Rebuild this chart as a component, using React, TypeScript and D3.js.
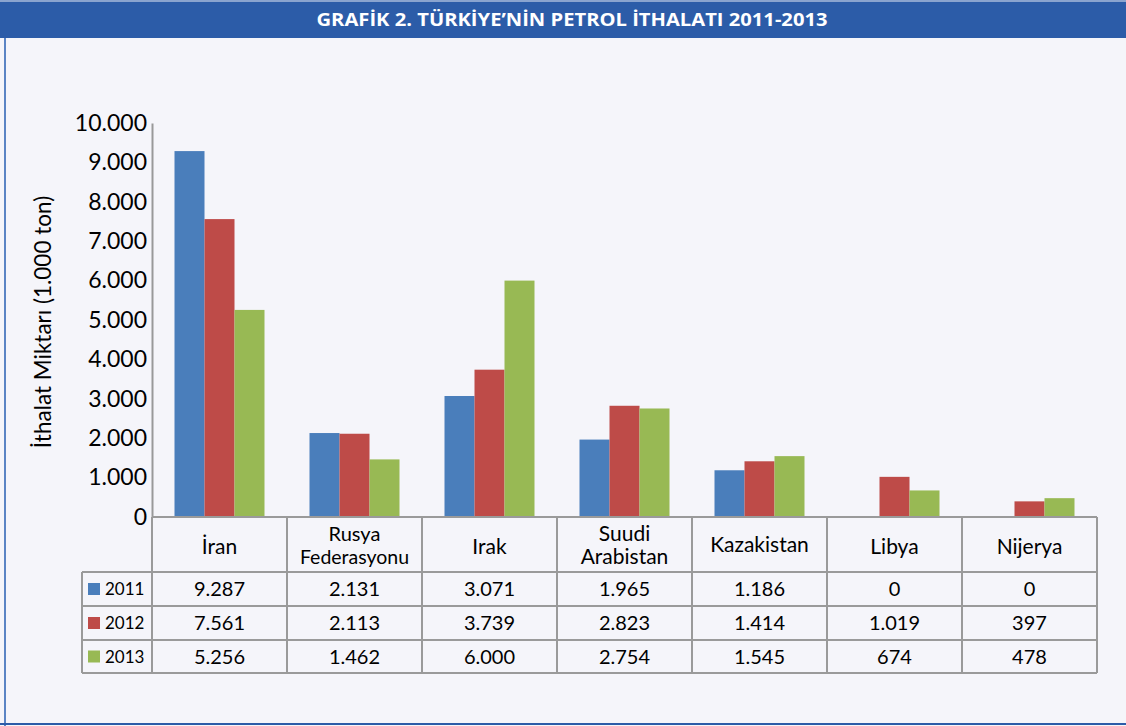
import React, { useEffect, useRef } from 'react';
import * as d3 from 'd3';

const countries = ['İran', 'Rusya Federasyonu', 'Irak', 'Suudi Arabistan', 'Kazakistan', 'Libya', 'Nijerya'];
const countryLines = [['İran'], ['Rusya', 'Federasyonu'], ['Irak'], ['Suudi', 'Arabistan'], ['Kazakistan'], ['Libya'], ['Nijerya']];
const years = ['2011', '2012', '2013'];
const values2011 = [9287, 2131, 3071, 1965, 1186, 0, 0];
const values2012 = [7561, 2113, 3739, 2823, 1414, 1019, 397];
const values2013 = [5256, 1462, 6000, 2754, 1545, 674, 478];
const yTicks = [0, 1000, 2000, 3000, 4000, 5000, 6000, 7000, 8000, 9000, 10000];
const colors = ['#4a7ebb', '#be4b48', '#98b954'];

const title = 'GRAFİK 2. TÜRKİYE’NİN PETROL İTHALATI 2011-2013';
const yTitle = 'İthalat Miktarı (1.000 ton)';

const W = 1126;
const H = 726;

const App: React.FC = () => {
  const svgRef = useRef<SVGSVGElement | null>(null);

  useEffect(() => {
    if (!svgRef.current) return;
    const svg = d3.select(svgRef.current);
    svg.selectAll('*').remove();

    const font = 'Lato, "Noto Sans", sans-serif';
    const series = [values2011, values2012, values2013];
    const fmt = (v: number) => d3.format(',')(v).replace(/,/g, '.');

    const left = 152;
    const right = 1097;
    const top = 123;
    const bottom = 517;

    // background + frame
    svg.append('rect').attr('width', W).attr('height', H).attr('fill', '#f5f5fa');
    svg.append('rect').attr('x', 0).attr('y', 0).attr('width', W).attr('height', 38).attr('fill', '#2c5ca8');
    svg.append('rect').attr('x', 0).attr('y', 0).attr('width', W).attr('height', 2).attr('fill', '#8aa4cf');
    svg.append('line').attr('x1', 5).attr('x2', 5).attr('y1', 38).attr('y2', H)
      .attr('stroke', '#5b84c4').attr('stroke-width', 2);
    svg.append('line').attr('x1', 0).attr('x2', W).attr('y1', H - 2).attr('y2', H - 2)
      .attr('stroke', '#2c5ca8').attr('stroke-width', 2);

    svg.append('text')
      .attr('x', 572).attr('y', 26)
      .attr('text-anchor', 'middle')
      .attr('fill', '#fff')
      .attr('font-family', '"Liberation Sans Narrow", "Open Sans", sans-serif')
      .attr('font-weight', 'bold')
      .attr('font-size', 18)
      .attr('textLength', 511)
      .attr('lengthAdjust', 'spacingAndGlyphs')
      .text(title);

    const x = d3.scaleBand<string>().domain(countries).range([left, right]).paddingInner(1 / 3).paddingOuter(1 / 6);
    const xs = d3.scaleBand<string>().domain(years).range([0, x.bandwidth()]);
    const y = d3.scaleLinear().domain([0, 10000]).range([bottom, top]);

    // bars
    years.forEach((yr, si) => {
      svg.append('g')
        .selectAll('rect')
        .data(series[si])
        .enter()
        .append('rect')
        .attr('x', (d, i) => (x(countries[i]) ?? 0) + (xs(yr) ?? 0))
        .attr('y', (d) => y(d))
        .attr('width', xs.bandwidth())
        .attr('height', (d) => bottom - y(d))
        .attr('fill', colors[si]);
    });

    // y axis
    const gy = svg.append('g').attr('transform', `translate(${left},0)`);
    gy.call(d3.axisLeft(y).tickValues(yTicks).tickSize(0).tickPadding(5).tickFormat((d) => fmt(d as number)));
    gy.select('.domain').attr('stroke', '#999').attr('stroke-width', 2);
    gy.selectAll('text').attr('font-family', font).attr('font-size', 23).attr('fill', '#000');

    svg.append('text')
      .attr('transform', `translate(51,${322}) rotate(-90)`)
      .attr('text-anchor', 'middle')
      .attr('font-family', font)
      .attr('font-size', 22.5)
      .attr('fill', '#000')
      .text(yTitle);

    // data table
    const rowLines = [517, 572, 606, 640, 673];
    const legendLeft = 82;
    const lineColor = '#9a9a9a';
    const tbl = svg.append('g');

    // horizontal lines
    tbl.append('line').attr('x1', left).attr('x2', right).attr('y1', rowLines[0]).attr('y2', rowLines[0])
      .attr('stroke', lineColor).attr('stroke-width', 2);
    rowLines.slice(1).forEach((ry) => {
      tbl.append('line').attr('x1', legendLeft).attr('x2', right).attr('y1', ry).attr('y2', ry)
        .attr('stroke', lineColor).attr('stroke-width', 2);
    });
    // vertical lines
    const colEdges = countries.map((c) => (x(c) ?? 0) - x.step() * x.paddingInner() / 2).concat([right]);
    colEdges.forEach((cx) => {
      tbl.append('line').attr('x1', cx).attr('x2', cx).attr('y1', rowLines[0]).attr('y2', rowLines[4])
        .attr('stroke', lineColor).attr('stroke-width', 2);
    });
    tbl.append('line').attr('x1', legendLeft).attr('x2', legendLeft).attr('y1', rowLines[1]).attr('y2', rowLines[4])
      .attr('stroke', lineColor).attr('stroke-width', 2);

    // category labels
    countries.forEach((c, i) => {
      const cx = (x(c) ?? 0) + x.bandwidth() / 2;
      const lines = countryLines[i];
      if (lines.length === 1) {
        tbl.append('text').attr('x', cx).attr('y', c === 'Kazakistan' ? 552 : 554)
          .attr('text-anchor', 'middle').attr('font-family', font).attr('font-size', 21)
          .text(lines[0]);
      } else {
        const small = c === 'Rusya Federasyonu';
        lines.forEach((ln, li) => {
          tbl.append('text').attr('x', cx).attr('y', li === 0 ? 541 : 564)
            .attr('text-anchor', 'middle').attr('font-family', font)
            .attr('font-size', small ? (li === 0 ? 20 : 19.5) : 21)
            .text(ln);
        });
      }
    });

    // value rows
    years.forEach((yr, si) => {
      const cy = (rowLines[si + 1] + rowLines[si + 2]) / 2;
      tbl.append('rect').attr('x', 88).attr('y', cy - 6).attr('width', 12).attr('height', 12).attr('fill', colors[si]);
      tbl.append('text').attr('x', 105).attr('y', cy + 6).attr('font-family', font).attr('font-size', 17).text(yr);
      series[si].forEach((v, i) => {
        tbl.append('text')
          .attr('x', (x(countries[i]) ?? 0) + x.bandwidth() / 2)
          .attr('y', cy + 7)
          .attr('text-anchor', 'middle')
          .attr('font-family', font)
          .attr('font-size', 20)
          .text(fmt(v));
      });
    });
  }, []);

  return (
    <svg
      ref={svgRef}
      width={W}
      height={H}
      style={{ position: 'absolute', left: 0, top: 0, display: 'block' }}
    />
  );
};

export default App;
